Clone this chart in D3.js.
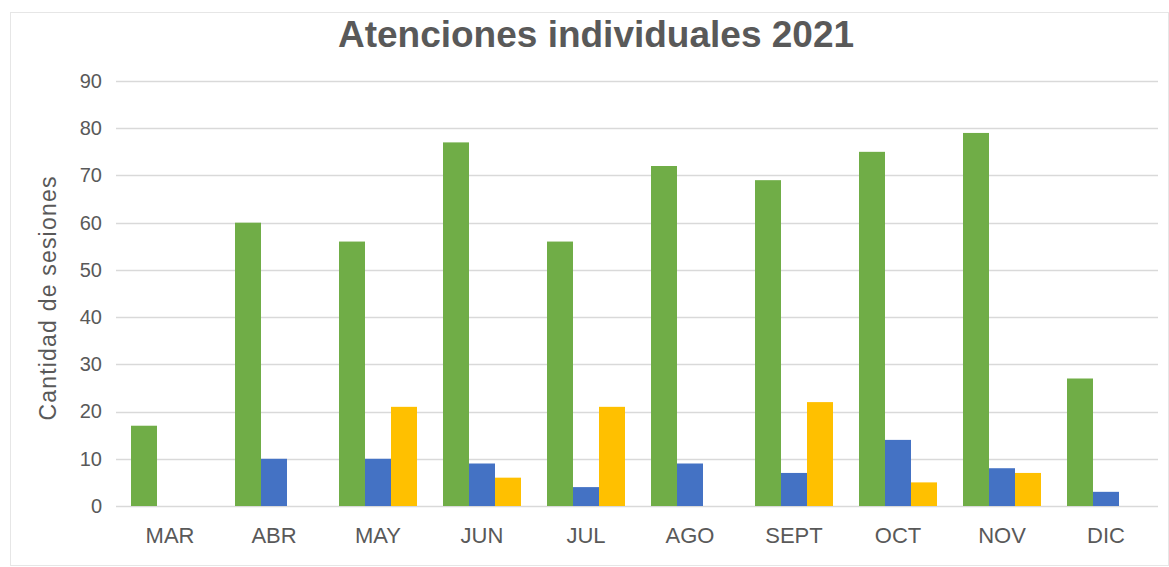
<!DOCTYPE html>
<html><head><meta charset="utf-8">
<script src="https://cdn.jsdelivr.net/npm/d3@7"></script>
<style>body{margin:0;background:#fff;}svg{display:block;font-family:"Liberation Sans",Arial,sans-serif;}</style>
</head><body>
<script>
const categories = ["MAR","ABR","MAY","JUN","JUL","AGO","SEPT","OCT","NOV","DIC"];
const seriesNames = ["A","B","C"];
const greenValues = [17,60,56,77,56,72,69,75,79,27];
const blueValues = [0,10,10,9,4,9,7,14,8,3];
const yellowValues = [0,0,21,6,21,0,22,5,7,0];
const yTicks = [0,10,20,30,40,50,60,70,80,90];
const colors = ["#70AD47","#4472C4","#FFC000"];
const seriesValues = [greenValues, blueValues, yellowValues];

const W = 1169, H = 567;
const svg = d3.select("body").append("svg").attr("width", W).attr("height", H);
svg.append("rect").attr("x",10.5).attr("y",12.5).attr("width",W-11).attr("height",H-14)
  .attr("fill","#fff").attr("stroke","#e6e6e6");

const x0 = d3.scaleBand().domain(categories).range([118,1158]).paddingInner(0).paddingOuter(0);
const y = d3.scaleLinear().domain([0,90]).range([506,81]);

// gridlines
svg.append("g").selectAll("line").data(yTicks).join("line")
  .attr("x1",116).attr("x2",1158).attr("y1",d=>Math.round(y(d))+0.5).attr("y2",d=>Math.round(y(d))+0.5)
  .attr("stroke","#d9d9d9").attr("stroke-width",1.5);

// y tick labels
const yAxis = d3.axisLeft(y).tickValues(yTicks).tickSize(0).tickPadding(0);
const ya = svg.append("g").attr("transform","translate(102,0)").call(yAxis);
ya.select(".domain").remove();
ya.selectAll("text").attr("fill","#595959").style("font-size","20px").style("font-family","'Liberation Sans',Arial,sans-serif");

// bars
const bw = 26;
const groups = svg.append("g").selectAll("g").data(categories).join("g")
  .attr("transform", d=>`translate(${x0(d)},0)`);
groups.selectAll("rect").data((d,i)=>seriesValues.map((s,k)=>({k, v:s[i]}))).join("rect")
  .attr("x", d => x0.bandwidth()/2 - 1.5*bw + d.k*bw)
  .attr("width", bw)
  .attr("y", d => y(d.v))
  .attr("height", d => y(0) - y(d.v))
  .attr("fill", d => colors[d.k]);

// x axis labels
const xAxis = d3.axisBottom(x0).tickSize(0).tickPadding(0);
const xa = svg.append("g").attr("transform","translate(0,527)").call(xAxis);
xa.select(".domain").remove();
xa.selectAll("text").attr("fill","#595959").style("font-size","22px").style("font-family","'Liberation Sans',Arial,sans-serif");

// title
svg.append("text").attr("x",596).attr("y",47).attr("text-anchor","middle")
  .attr("fill","#595959").style("font-size","37px").style("font-weight","bold")
  .text("Atenciones individuales 2021");

// y axis title
svg.append("text").attr("transform","translate(56,298) rotate(-90)").attr("text-anchor","middle")
  .attr("fill","#595959").style("font-size","23px").style("letter-spacing","1.2px")
  .text("Cantidad de sesiones");
</script>
</body></html>
